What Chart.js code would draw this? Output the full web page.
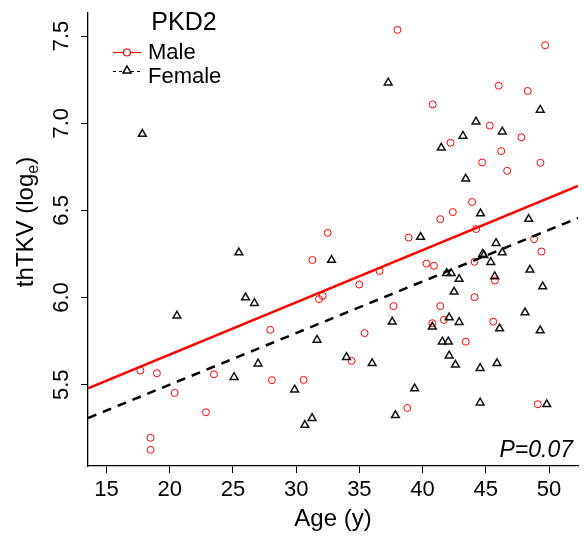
<!DOCTYPE html>
<html>
<head>
<meta charset="utf-8">
<script src="https://cdn.jsdelivr.net/npm/chart.js@4.4.1/dist/chart.umd.min.js"></script>
<style>
  html, body { margin: 0; padding: 0; background: #fff; }
  canvas { display: block; }
</style>
</head>
<body>
<canvas id="chart" width="584" height="540"></canvas>
<script>
const FONT = "'Liberation Sans', Arial, sans-serif";

// male (red circles)
const maleAge = [17.68, 18.99, 18.49, 18.49, 20.39, 22.87, 23.50, 27.95, 28.08, 30.59,
  31.29, 31.81, 32.10, 32.49, 34.39, 34.99, 35.41, 36.60, 37.70, 38.01,
  38.79, 38.90, 40.31, 40.77, 40.80, 40.90, 41.40, 41.40, 41.69, 42.21,
  42.39, 43.41, 43.91, 44.11, 44.11, 44.23, 44.71, 45.31, 45.59, 45.72,
  46.02, 46.22, 46.69, 47.82, 48.31, 48.82, 49.11, 49.32, 49.40, 49.69];
const maleTkv = [5.581, 5.566, 5.196, 5.127, 5.453, 5.342, 5.560, 5.815, 5.526, 5.528,
  6.215, 5.991, 6.010, 6.371, 5.637, 6.075, 5.796, 6.152, 5.951, 7.535,
  5.367, 6.344, 6.195, 5.853, 7.108, 6.182, 6.450, 5.951, 5.872, 6.888,
  6.490, 5.747, 6.548, 6.205, 6.002, 6.393, 6.775, 6.986, 5.862, 6.098,
  7.215, 6.840, 6.727, 6.919, 7.185, 6.335, 5.388, 6.773, 6.264, 7.447];

// female (black triangles)
const femaleAge = [17.84, 20.57, 25.09, 25.47, 26.00, 26.70, 26.99, 29.88, 30.69, 31.26,
  31.65, 32.80, 33.98, 36.01, 37.28, 37.60, 37.85, 39.37, 39.84, 40.77,
  41.48, 41.56, 41.90, 42.03, 42.10, 42.10, 42.26, 42.49, 42.60, 42.89,
  42.89, 43.19, 43.41, 44.22, 44.55, 44.55, 44.58, 44.85, 44.75, 45.39,
  45.70, 45.81, 45.88, 46.09, 46.30, 46.30, 48.10, 48.39, 48.49, 49.30,
  49.30, 49.50, 49.82];
const femaleTkv = [6.938, 5.895, 5.543, 6.258, 6.000, 5.968, 5.621, 5.472, 5.269, 5.308,
  5.757, 6.215, 5.658, 5.623, 7.232, 5.861, 5.325, 5.478, 6.347, 5.832,
  6.859, 5.747, 6.140, 5.747, 5.885, 5.667, 6.140, 6.033, 5.614, 6.106,
  5.859, 6.927, 6.681, 7.009, 5.595, 5.397, 6.482, 6.243, 6.250, 6.203,
  6.121, 6.312, 5.623, 5.822, 6.258, 6.951, 5.914, 6.450, 6.159, 7.076,
  5.811, 6.063, 5.388];

// fitted lines (end points at the plot edges)
const fitAge = [13.54, 52.29];
const maleFitTkv = [5.48, 6.641];
const femaleFitTkv = [5.309, 6.456];

const xTicks = [15, 20, 25, 30, 35, 40, 45, 50];
const yTicks = [5.5, 6.0, 6.5, 7.0, 7.5];
const xRange = [13.54, 52.29];
const yRange = [5.034, 7.632];

function toPoints(xs, ys) {
  return xs.map((x, i) => ({ x, y: ys[i] }));
}

const axisStyle = {
  grid: { display: true, drawOnChartArea: false, drawTicks: true, tickLength: 7, color: "#000", lineWidth: 1 },
  border: { display: true, color: "#000", width: 1.3 },
};

const extraText = {
  id: "extraText",
  afterDraw(chart) {
    const ctx = chart.ctx;
    const yScale = chart.scales.y;
    ctx.save();
    ctx.fillStyle = "#000";

    // y tick labels, rotated like R
    ctx.font = `22px ${FONT}`;
    ctx.textAlign = "center";
    ctx.textBaseline = "alphabetic";
    yTicks.forEach((v) => {
      ctx.save();
      ctx.translate(68, yScale.getPixelForValue(v));
      ctx.rotate(-Math.PI / 2);
      ctx.fillText(v.toFixed(1), 0, 0);
      ctx.restore();
    });

    // y axis title with subscript
    ctx.save();
    ctx.translate(33, 222);
    ctx.rotate(-Math.PI / 2);
    ctx.textAlign = "left";
    const mainFont = `24px ${FONT}`;
    const subFont = `16px ${FONT}`;
    ctx.font = mainFont;
    const w1 = ctx.measureText("thTKV (log").width;
    const w3 = ctx.measureText(")").width;
    ctx.font = subFont;
    const w2 = ctx.measureText("e").width;
    let x0 = -(w1 + w2 + w3) / 2;
    ctx.font = mainFont;
    ctx.fillText("thTKV (log", x0, 0);
    ctx.font = subFont;
    ctx.fillText("e", x0 + w1, 5);
    ctx.font = mainFont;
    ctx.fillText(")", x0 + w1 + w2, 0);
    ctx.restore();

    // panel title
    ctx.font = `25px ${FONT}`;
    ctx.textAlign = "center";
    ctx.fillText("PKD2", 184, 30);

    // legend
    ctx.textAlign = "left";
    ctx.font = `22px ${FONT}`;
    ctx.strokeStyle = "#ff0000";
    ctx.lineWidth = 1.2;
    ctx.beginPath();
    ctx.moveTo(113, 52.5);
    ctx.lineTo(141, 52.5);
    ctx.stroke();
    ctx.fillStyle = "#fff";
    ctx.beginPath();
    ctx.arc(127, 52.5, 3.5, 0, Math.PI * 2);
    ctx.fill();
    ctx.stroke();
    ctx.fillStyle = "#000";
    ctx.fillText("Male", 148, 59);

    ctx.strokeStyle = "#000";
    ctx.setLineDash([3, 3]);
    ctx.beginPath();
    ctx.moveTo(113, 71.5);
    ctx.lineTo(141, 71.5);
    ctx.stroke();
    ctx.setLineDash([]);
    ctx.lineWidth = 1.5;
    ctx.fillStyle = "#fff";
    ctx.beginPath();
    ctx.moveTo(127, 66);
    ctx.lineTo(131, 73);
    ctx.lineTo(123, 73);
    ctx.closePath();
    ctx.fill();
    ctx.stroke();
    ctx.fillStyle = "#000";
    ctx.fillText("Female", 148, 83);

    // p value
    ctx.font = `italic 23px ${FONT}`;
    ctx.textAlign = "right";
    ctx.fillText("P=0.07", 573, 457);
    ctx.restore();
  },
};

new Chart(document.getElementById("chart"), {
  type: "scatter",
  data: {
    datasets: [
      {
        label: "Male fit",
        data: toPoints(fitAge, maleFitTkv),
        showLine: true,
        borderColor: "#ff0000",
        borderWidth: 2.5,
        pointRadius: 0,
        order: 0,
      },
      {
        label: "Female fit",
        data: toPoints(fitAge, femaleFitTkv),
        showLine: true,
        borderColor: "#000",
        borderWidth: 2.5,
        borderDash: [9, 7],
        pointRadius: 0,
        order: 0,
      },
      {
        label: "Male",
        data: toPoints(maleAge, maleTkv),
        pointStyle: "circle",
        pointRadius: 3.5,
        borderWidth: 1,
        borderColor: "#ff0000",
        backgroundColor: "rgba(0,0,0,0)",
        order: 2,
      },
      {
        label: "Female",
        data: toPoints(femaleAge, femaleTkv),
        pointStyle: "triangle",
        pointRadius: 4.5,
        borderWidth: 1.5,
        borderColor: "#111",
        backgroundColor: "rgba(0,0,0,0)",
        order: 1,
      },
    ],
  },
  options: {
    responsive: false,
    animation: false,
    devicePixelRatio: 1,
    layout: { padding: { top: 13, left: 0, right: 0, bottom: 0 } },
    plugins: {
      legend: { display: false },
      tooltip: { enabled: false },
    },
    scales: {
      x: {
        type: "linear",
        position: "bottom",
        min: xRange[0],
        max: xRange[1],
        afterBuildTicks(scale) {
          scale.ticks = xTicks.map((v) => ({ value: v }));
        },
        afterFit(scale) {
          scale.height = 74;
        },
        ticks: {
          font: { family: FONT, size: 22 },
          color: "#000",
          padding: 4,
          maxRotation: 0,
          autoSkip: false,
          callback: (v) => String(v),
        },
        title: {
          display: true,
          text: "Age (y)",
          color: "#000",
          font: { family: FONT, size: 24 },
          padding: { top: 2, bottom: 6 },
        },
        ...axisStyle,
      },
      y: {
        type: "linear",
        min: yRange[0],
        max: yRange[1],
        afterBuildTicks(scale) {
          scale.ticks = yTicks.map((v) => ({ value: v }));
        },
        afterFit(scale) {
          scale.width = 88;
        },
        ticks: { display: false },
        ...axisStyle,
      },
    },
  },
  plugins: [extraText],
});
</script>
</body>
</html>
